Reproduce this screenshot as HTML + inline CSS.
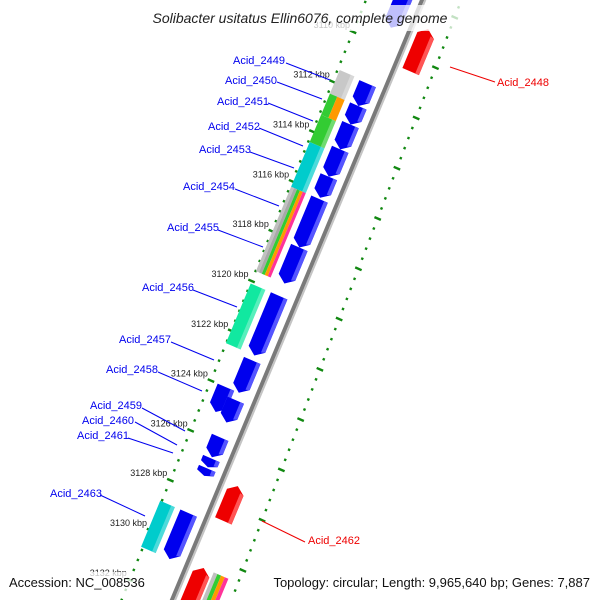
<!DOCTYPE html>
<html><head><meta charset="utf-8"><style>
html,body{margin:0;padding:0;background:#fff;overflow:hidden;}
svg{display:block;font-family:"Liberation Sans",sans-serif;}
</style></head><body>
<svg id="map" width="600" height="600" viewBox="0 0 600 600" xmlns="http://www.w3.org/2000/svg">
<defs><clipPath id="frame"><rect x="0" y="0" width="600" height="600"/></clipPath></defs>
<rect width="600" height="600" fill="#fff"/>
<g id="layer" clip-path="url(#frame)"></g>
<rect x="136" y="5" width="328" height="26" fill="#fff" opacity="0.75"/>
<rect x="5" y="572" width="146" height="26" fill="#fff" opacity="0.75"/>
<rect x="256" y="572" width="340" height="26" fill="#fff" opacity="0.75"/>
<text x="300" y="23" text-anchor="middle" font-size="14" font-style="italic" fill="#222">Solibacter usitatus Ellin6076, complete genome</text>
<text x="9" y="587" font-size="13" fill="#111">Accession: NC_008536</text>
<text x="590" y="587" text-anchor="end" font-size="13" fill="#111">Topology: circular; Length: 9,965,640 bp; Genes: 7,887</text>
</svg>
<script>
// ---- data ----
const fwdStart=[3107.0,3111.55,3112.45,3113.2,3114.2,3115.3,3116.2,3118.15,3120.1,3122.7,3124.0,3124.3,3125.8,3126.65,3127.05,3128.85];
const fwdEnd  =[3109.3,3112.45,3113.2,3114.2,3115.3,3116.15,3118.15,3119.6,3122.5,3124.0,3125.0,3125.2,3126.6,3127.0,3127.35,3130.7];
const fwdRow  =[1,1,1,1,1,1,1,1,1,1,2,1,1,1,1,1];
const revStart=[3108.8,3127.2,3130.5];
const revEnd  =[3110.5,3128.6,3132.2];
const cogStart=[3111.5,3112.45,3113.3,3114.4,3116.2,3120.1,3128.85,3130.5];
const cogEnd  =[3112.45,3113.3,3114.4,3116.2,3119.6,3122.5,3130.7,3132.2];
const cogSide =[-1,-1,-1,-1,-1,-1,-1,1];
const cogColors=[["#c8c8c8"],["#33cc33","#ff9900"],["#33cc33"],["#00cccc"],["#c0c0c0","#a8a8a8","#33cc33","#ff9900","#ff3399"],["#11e8a0"],["#00cccc"],["#c0c0c0","#33cc33","#ff9900","#ff3399"]];
const tickLabels=[3110,3112,3114,3116,3118,3120,3122,3124,3126,3128,3130,3132];
const geneNames=["Acid_2449","Acid_2450","Acid_2451","Acid_2452","Acid_2453","Acid_2454","Acid_2455","Acid_2456","Acid_2457","Acid_2458","Acid_2459","Acid_2460","Acid_2461","Acid_2463"];
const nameX=[233,225,217,208,199,183,167,142,119,106,90,82,77,50];
const nameY=[64,84,105,130,153,190,231,291,343,373,409,424,439,497];
const leadA=[[286,63,330,80],[277,82,322,99],[268,103,313,121],[259,128,303,146],[250,152,294,168],[235,189,279,206],[218,230,263,247],[193,290,237,307],[171,342,214,360],[158,372,202,391],[142,408,185,431],[135,422,177,445],[128,438,173,453],[100,495,145,516]];
const revNames=["Acid_2448","Acid_2462"];
const revNameX=[497,308];
const revNameY=[86,544];
const revLead=[[450,67,495,82],[262,521,305,542]];

// ---- axis ----
const OX=384,OY=102,C=Math.cos(23.5*Math.PI/180),S=Math.sin(23.5*Math.PI/180),PX=27;
function P(kbp,off,k){const ly=(kbp-3112)*PX;const lx=off+ly*(k||0);return [OX+lx*C-ly*S+(ly-450)*0.01,OY+lx*S+ly*C];}
const layer=document.getElementById('layer');
const NS="http://www.w3.org/2000/svg";
function mk(tag,attrs){const e=document.createElementNS(NS,tag);for(const a in attrs)e.setAttribute(a,attrs[a]);layer.appendChild(e);return e;}
function poly(pts){return pts.map(p=>p[0].toFixed(1)+","+p[1].toFixed(1)).join(" ");}
const GK=0.006;

// backbone
let bb=mk('line',{x1:P(3106,0,GK)[0],y1:P(3106,0,GK)[1],x2:P(3132.3,0,GK)[0],y2:P(3132.3,0,GK)[1],stroke:'#7a7a7a','stroke-width':4});


let bb2=mk('line',{x1:P(3106,3,GK)[0],y1:P(3106,3,GK)[1],x2:P(3132.3,3,GK)[0],y2:P(3132.3,3,GK)[1],stroke:'#c4c4c4','stroke-width':2});



// tick tracks
function ticks(off,k,name){
  for(let i=0;i<=70;i++){
    const kb=3106+i*0.4;
    const major=Math.abs(kb/2-Math.round(kb/2))<0.01;
    const len=major?3.5:1.2;
    const a=P(kb,off-len,k),b=P(kb,off+len,k);
    if(Math.max(a[1],b[1])>601||Math.min(a[1],b[1])<-1)continue;
    const t=mk('line',{x1:a[0],y1:a[1],x2:b[0],y2:b[1],stroke:'#118811','stroke-width':2.4});
    
    
  }
}
ticks(-51,0.014,'inner');
ticks(40,0.035,'outer');
tickLabels.forEach(v=>{
  const p=P(v,-51,0.014);
  const t=mk('text',{x:p[0]-3,y:p[1]-4,'text-anchor':'end','font-size':9,fill:'#222'});
  t.textContent=v+' kbp';
  
  
});

// COG bars
cogStart.forEach((s,i)=>{
  const e=cogEnd[i],cols=cogColors[i];
  const x0=cogSide[i]<0?-49:28,x1=cogSide[i]<0?-33:44;
  const w=(x1-x0)/cols.length;
  cols.forEach((c,j)=>{
    const a=x0+j*w,b=a+w;
    const r=mk('polygon',{points:poly([P(s,a,GK),P(s,b,GK),P(e,b,GK),P(e,a,GK)]),fill:c});
    
    
  });
  if(cols.length===1){
    const r2=mk('polygon',{points:poly([P(s,x1-4,GK),P(s,x1,GK),P(e,x1,GK),P(e,x1-4,GK)]),fill:'#fff',opacity:0.3});
    
    
  }
});

// forward genes (blue)
fwdStart.forEach((s,i)=>{
  const e=fwdEnd[i];
  const x0=fwdRow[i]===1?-27:-41,x1=x0+18,xm=(x0+x1)/2;
  const h=Math.min(0.25,(e-s)*0.4);
  const pts=[P(s,x0,GK),P(s,x1,GK),P(e-h,x1,GK),P(e,xm,GK),P(e-h,x0,GK)];
  const g=mk('polygon',{points:poly(pts),fill:'#0000ee'});
  
  
  const st=mk('polygon',{points:poly([P(s,x1-4,GK),P(s,x1,GK),P(e-h,x1,GK),P(e-h*0.8,x1-4,GK)]),fill:'#5555ff'});
  
  
});

// reverse genes (red)
revStart.forEach((s,i)=>{
  const e=revEnd[i];
  const x0=8,x1=26,xm=17,h=0.25;
  const pts=[P(s,xm,GK),P(s+h,x1,GK),P(e,x1,GK),P(e,x0,GK),P(s+h,x0,GK)];
  const g=mk('polygon',{points:poly(pts),fill:'#ee0000'});
  
  
  const st=mk('polygon',{points:poly([P(s+h*0.8,x1-4,GK),P(s+h,x1,GK),P(e,x1,GK),P(e,x1-4,GK)]),fill:'#ff5555'});
  
  
});

// labels
geneNames.forEach((n,i)=>{
  const l=leadA[i];
  const ln=mk('line',{x1:l[0],y1:l[1],x2:l[2],y2:l[3],stroke:'#0000ee','stroke-width':1});
  
  
  const t=mk('text',{x:nameX[i],y:nameY[i],'font-size':11,fill:'#0000ee'});
  t.textContent=n;
  
  
});
revNames.forEach((n,i)=>{
  const l=revLead[i];
  const ln=mk('line',{x1:l[0],y1:l[1],x2:l[2],y2:l[3],stroke:'#ee0000','stroke-width':1});
  
  
  const t=mk('text',{x:revNameX[i],y:revNameY[i],'font-size':11,fill:'#ee0000'});
  t.textContent=n;
  
  
});
</script>
</body></html>
